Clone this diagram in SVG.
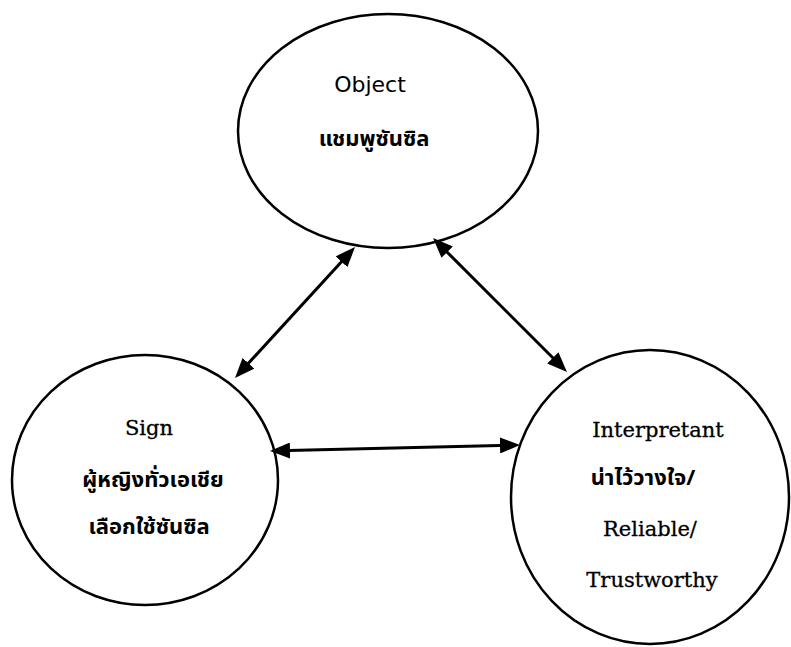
<svg xmlns="http://www.w3.org/2000/svg" width="791" height="647" viewBox="0 0 791 647">
<defs>
<style>
.node{fill:none;stroke:#000;stroke-width:2.5}
.conn{fill:none;stroke:#000;stroke-width:3}
.en{font-family:"DejaVu Serif","Liberation Serif",serif;font-size:21px;fill:#000;stroke:#000;stroke-width:0.3;text-anchor:middle}
.sans{font-family:"DejaVu Sans","Liberation Sans",sans-serif;font-size:22px;fill:#000;text-anchor:middle}
.th{font-family:"Noto Sans Thai","Noto Sans","DejaVu Sans",sans-serif;font-size:22px;font-weight:bold;fill:#000;text-anchor:middle}
</style>
<marker id="ah" viewBox="0 0 20 16" refX="12" refY="8" markerWidth="20" markerHeight="16" markerUnits="userSpaceOnUse" orient="auto-start-reverse">
<path d="M0,0 L20,8 L0,16 z" fill="#000"/>
</marker>
</defs>
<rect width="791" height="647" fill="#fff"/>
<g id="connectors">
<path class="conn" d="M349.6,252.9 L240.4,372.1" marker-start="url(#ah)" marker-end="url(#ah)"/>
<path class="conn" d="M438.7,243.7 L561.3,366.3" marker-start="url(#ah)" marker-end="url(#ah)"/>
<path class="conn" d="M278,450.8 L512,445.2" marker-start="url(#ah)" marker-end="url(#ah)"/>
</g>
<g id="object">
<ellipse class="node" cx="388" cy="131" rx="150" ry="117"/>
<text class="sans" x="370" y="92">Object</text>
<text class="th" x="374" y="146">แชมพูซันซิล</text>
</g>
<g id="sign">
<ellipse class="node" cx="145" cy="480" rx="133" ry="125"/>
<text class="en" x="149" y="435">Sign</text>
<text class="th" x="153" y="487">ผู้หญิงทั่วเอเชีย</text>
<text class="th" x="149" y="534">เลือกใช้ซันซิล</text>
</g>
<g id="interpretant">
<ellipse class="node" cx="650" cy="497" rx="139" ry="147"/>
<text class="en" x="658" y="437" font-size="22">Interpretant</text>
<text class="th" x="643" y="485">น่าไว้วางใจ/</text>
<text class="en" x="650" y="536">Reliable/</text>
<text class="en" x="652" y="587">Trustworthy</text>
</g>
</svg>
